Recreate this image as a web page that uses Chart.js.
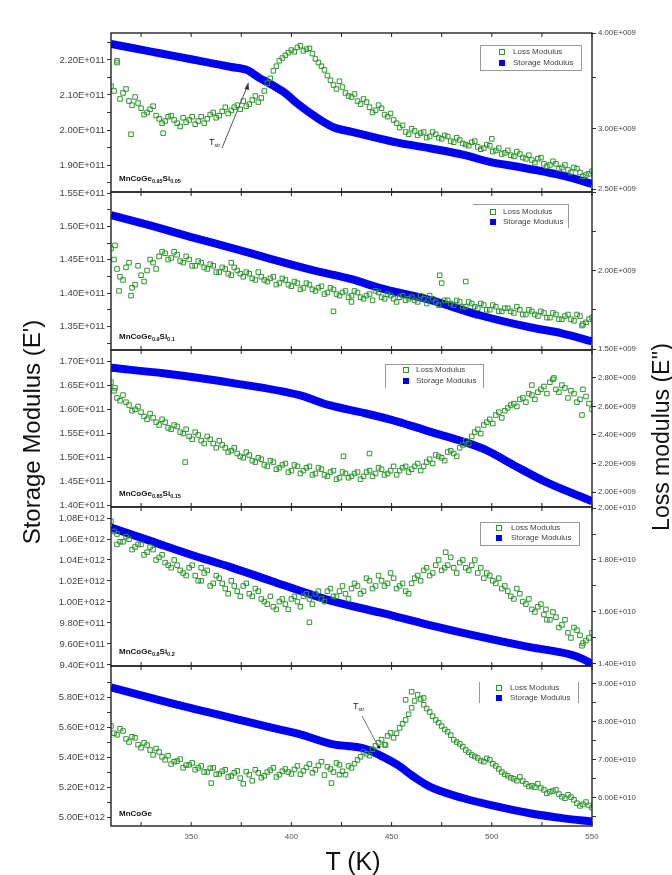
<!DOCTYPE html>
<html>
<head>
<meta charset="utf-8">
<script src="https://cdn.jsdelivr.net/npm/chart.js@4.4.0/dist/chart.umd.min.js"></script>
<style>
  body { margin: 0; background: #fff; }
  #wrap { position: relative; width: 672px; height: 875px; overflow: hidden; font-family: Arial, "Liberation Sans", sans-serif; }
  #wrap canvas { position: absolute; left: 0; }
  .ttl { position: absolute; color: #111; white-space: nowrap; transform: translate(-50%, -50%); }
  .rot { transform: translate(-50%, -50%) rotate(-90deg); }
  .legbox { position: absolute; border-color: #999; border-style: solid; border-width: 0; }
  .legrow { position: absolute; font-size: 8px; color: #444; white-space: nowrap; line-height: 8px; }
  .sq { position: absolute; width: 6px; height: 6px; box-sizing: border-box; }
  .sample { position: absolute; font-weight: bold; font-size: 8px; color: #111; white-space: nowrap; line-height: 8px; }
  .sample sub { font-size: 5.5px; vertical-align: -2px; font-weight: bold; }
  .tstr { position: absolute; font-size: 9px; color: #222; line-height: 9px; }
  .tstr sub { font-size: 5px; vertical-align: -2px; }
</style>
</head>
<body>
<div id="wrap"></div>
<script>
// temperatures of the loss-modulus readings (K), two interleaved sweeps
const tGrid = [310,313,316,319,322,325,328,331,334,337,340,343,346,349,352,355,358,361,364,367,370,373,376,379,382,385,388,391,394,397,400,403,406,409,412,415,418,421,424,427,430,433,436,439,442,445,448,451,454,457,460,463,466,469,472,475,478,481,484,487,490,493,496,499,502,505,508,511,514,517,520,523,526,529,532,535,538,541,544,547,550];
const tGrid2 = [311.5,314.5,317.5,320.5,323.5,326.5,329.5,332.5,335.5,338.5,341.5,344.5,347.5,350.5,353.5,356.5,359.5,362.5,365.5,368.5,371.5,374.5,377.5,380.5,383.5,386.5,389.5,392.5,395.5,398.5,401.5,404.5,407.5,410.5,413.5,416.5,419.5,422.5,425.5,428.5,431.5,434.5,437.5,440.5,443.5,446.5,449.5,452.5,455.5,458.5,461.5,464.5,467.5,470.5,473.5,476.5,479.5,482.5,485.5,488.5,491.5,494.5,497.5,500.5,503.5,506.5,509.5,512.5,515.5,518.5,521.5,524.5,527.5,530.5,533.5,536.5,539.5,542.5,545.5,548.5];

// x axis ticks
const xTicks = [350, 400, 450, 500, 550];
const xMinor = [325, 375, 425, 475, 525];

// MnCoGe0.95Si0.05  (storage x1e11, loss x1e9)
const storT1 = [310,320,330,340,350,360,370,378,384,390,396,404,412,421,430,440,453,469,486,499,513,526,536,550];
const stor1 = [2.246,2.235,2.224,2.213,2.202,2.191,2.180,2.171,2.149,2.130,2.109,2.071,2.038,2.008,1.995,1.981,1.964,1.948,1.929,1.909,1.895,1.881,1.869,1.846];
const loss1 = [3.41,3.66,3.34,3.26,3.30,3.19,3.15,3.21,3.09,3.07,3.12,3.05,3.10,3.08,3.04,3.11,3.09,3.15,3.12,3.20,3.17,3.22,3.26,3.23,3.31,3.29,3.44,3.57,3.68,3.74,3.80,3.83,3.79,3.82,3.70,3.62,3.52,3.42,3.46,3.34,3.30,3.26,3.28,3.20,3.17,3.19,3.11,3.08,3.01,2.97,3.00,2.94,2.97,2.93,2.95,2.91,2.93,2.88,2.90,2.86,2.88,2.84,2.83,2.85,2.81,2.78,2.81,2.76,2.78,2.74,2.73,2.74,2.70,2.69,2.70,2.67,2.65,2.67,2.63,2.61,2.64];
const loss1b = [3.36,3.28,3.38,3.22,3.24,3.13,3.18,3.12,3.05,3.11,3.08,3.02,3.06,3.11,3.07,3.05,3.13,3.10,3.16,3.14,3.20,3.18,3.21,3.27,3.25,3.36,3.49,3.62,3.71,3.77,3.78,3.85,3.81,3.76,3.66,3.58,3.47,3.38,3.40,3.31,3.33,3.23,3.25,3.15,3.22,3.13,3.14,3.05,3.03,2.95,2.98,2.96,2.92,2.97,2.92,2.94,2.89,2.92,2.87,2.85,2.89,2.82,2.86,2.80,2.83,2.79,2.77,2.80,2.75,2.77,2.71,2.75,2.68,2.72,2.66,2.69,2.63,2.66,2.60,2.62];
const extraT1 = [313, 336, 500, 320];
const extraLoss1 = [3.68, 2.96, 2.91, 2.95];

// MnCoGe0.9Si0.1  (storage x1e11, loss x1e9)
const storT2 = [310,330,350,370,390,410,430,444,469,494,519,535,550];
const stor2 = [1.517,1.501,1.484,1.468,1.451,1.435,1.421,1.408,1.390,1.367,1.349,1.340,1.328];
const loss2 = [2.14,2.01,1.94,2.05,1.91,1.97,2.00,2.05,2.09,2.11,2.08,2.10,2.05,2.07,2.03,2.05,2.01,2.03,1.99,2.01,1.97,2.00,1.96,1.98,1.94,1.96,1.93,1.96,1.92,1.94,1.90,1.92,1.89,1.91,1.87,1.90,1.86,1.88,1.84,1.87,1.84,1.86,1.82,1.85,1.87,1.83,1.85,1.82,1.83,1.81,1.83,1.80,1.82,1.84,1.80,1.92,1.81,1.78,1.80,1.77,1.79,1.76,1.78,1.75,1.77,1.74,1.76,1.73,1.75,1.72,1.74,1.71,1.73,1.70,1.72,1.69,1.72,1.68,1.71,1.67,1.70];
const loss2b = [2.07,1.96,2.02,1.89,2.03,1.93,2.07,2.01,2.12,2.07,2.12,2.06,2.09,2.03,2.06,2.02,2.04,1.99,2.02,1.98,2.02,1.98,1.99,1.95,1.99,1.94,1.95,1.91,1.95,1.91,1.93,1.88,1.92,1.88,1.89,1.85,1.89,1.85,1.86,1.83,1.87,1.83,1.84,1.81,1.86,1.82,1.84,1.80,1.84,1.82,1.81,1.84,1.79,1.82,1.78,1.81,1.79,1.81,1.77,1.80,1.77,1.79,1.75,1.78,1.74,1.76,1.74,1.77,1.72,1.75,1.72,1.74,1.70,1.73,1.69,1.71,1.69,1.72,1.66,1.69];
const extraT2 = [312, 314, 320, 474, 487, 421, 430, 545, 370];
const extraLoss2 = [2.16, 1.87, 1.84, 1.97, 1.93, 1.74, 1.80, 1.65, 2.05];

// MnCoGe0.85Si0.15  (storage x1e11, loss x1e9)
const storT3 = [310,337,371,404,419,436,453,469,486,497,511,528,550];
const stor3 = [1.686,1.674,1.654,1.629,1.608,1.592,1.574,1.553,1.532,1.515,1.483,1.446,1.408];
const loss3 = [2.77,2.66,2.68,2.61,2.58,2.56,2.51,2.52,2.47,2.49,2.44,2.46,2.41,2.39,2.42,2.36,2.39,2.34,2.36,2.31,2.29,2.27,2.24,2.26,2.21,2.23,2.18,2.21,2.17,2.20,2.15,2.18,2.15,2.18,2.13,2.16,2.11,2.15,2.10,2.13,2.11,2.14,2.11,2.15,2.13,2.16,2.13,2.18,2.15,2.18,2.16,2.20,2.18,2.23,2.26,2.24,2.28,2.27,2.31,2.36,2.39,2.44,2.47,2.51,2.54,2.52,2.59,2.62,2.65,2.63,2.68,2.70,2.74,2.77,2.72,2.75,2.66,2.69,2.65,2.67,2.58];
const loss3b = [2.71,2.64,2.63,2.57,2.60,2.53,2.55,2.49,2.51,2.45,2.47,2.42,2.44,2.37,2.40,2.34,2.37,2.31,2.33,2.28,2.31,2.25,2.28,2.22,2.24,2.19,2.22,2.16,2.19,2.14,2.19,2.13,2.17,2.12,2.17,2.12,2.14,2.09,2.14,2.10,2.13,2.09,2.14,2.11,2.17,2.12,2.15,2.12,2.17,2.14,2.18,2.15,2.21,2.20,2.25,2.22,2.29,2.25,2.33,2.34,2.42,2.41,2.49,2.48,2.56,2.57,2.61,2.60,2.66,2.69,2.65,2.72,2.69,2.79,2.70,2.73,2.71,2.63,2.72,2.62];
const extraT3 = [347, 426, 439, 531, 545, 520, 312];
const extraLoss3 = [2.21, 2.25, 2.27, 2.80, 2.54, 2.75, 2.73];

// MnCoGe0.8Si0.2  (storage x1e12, loss x1e10)
const storT4 = [310,330,350,370,390,410,420,444,469,494,519,539,545,550];
const stor4 = [1.071,1.058,1.045,1.033,1.020,1.007,1.001,0.990,0.978,0.967,0.957,0.950,0.946,0.941];
const loss4 = [1.95,1.90,1.87,1.88,1.85,1.86,1.83,1.84,1.81,1.79,1.77,1.78,1.75,1.77,1.74,1.72,1.76,1.71,1.73,1.69,1.72,1.68,1.70,1.67,1.69,1.65,1.63,1.62,1.64,1.63,1.65,1.64,1.66,1.65,1.67,1.65,1.68,1.66,1.68,1.67,1.69,1.70,1.68,1.72,1.70,1.72,1.71,1.73,1.70,1.68,1.71,1.74,1.76,1.74,1.78,1.76,1.78,1.77,1.79,1.77,1.78,1.75,1.73,1.74,1.71,1.69,1.68,1.65,1.67,1.63,1.61,1.62,1.59,1.57,1.58,1.55,1.52,1.54,1.51,1.49,1.52];
const loss4b = [1.91,1.87,1.89,1.84,1.86,1.82,1.85,1.80,1.82,1.78,1.80,1.76,1.74,1.78,1.72,1.75,1.70,1.74,1.71,1.67,1.70,1.66,1.71,1.66,1.68,1.64,1.66,1.61,1.65,1.61,1.66,1.62,1.67,1.63,1.68,1.64,1.69,1.66,1.70,1.65,1.71,1.67,1.73,1.69,1.74,1.70,1.75,1.69,1.71,1.67,1.73,1.72,1.77,1.75,1.80,1.77,1.81,1.75,1.80,1.76,1.80,1.77,1.75,1.72,1.73,1.70,1.66,1.69,1.64,1.65,1.60,1.63,1.57,1.60,1.54,1.57,1.50,1.53,1.48,1.50];
const extraT4 = [409, 477, 313, 355, 527, 545];
const extraLoss4 = [1.56, 1.83, 1.86, 1.77, 1.61, 1.47];

// MnCoGe  (storage x1e12, loss x1e10)
const storT5 = [310,337,354,371,388,404,421,436,444,453,461,469,486,503,519,536,550];
const stor5 = [5.865,5.769,5.713,5.658,5.602,5.553,5.484,5.458,5.413,5.347,5.269,5.202,5.125,5.069,5.025,4.991,4.969];
const loss5 = [7.89,7.66,7.76,7.47,7.58,7.32,7.39,7.13,7.21,7.00,6.89,6.97,6.79,6.87,6.74,6.84,6.68,6.79,6.63,6.74,6.58,6.71,6.37,6.61,6.74,6.53,6.68,6.79,6.61,6.76,6.63,6.84,6.71,6.89,6.74,6.95,6.82,6.68,6.87,6.61,6.79,7.00,7.21,7.11,7.37,7.53,7.63,7.58,7.84,8.05,8.37,8.71,8.45,8.26,8.05,7.89,7.74,7.53,7.42,7.26,7.13,7.05,6.95,7.00,6.84,6.68,6.58,6.50,6.55,6.37,6.32,6.37,6.21,6.16,6.21,6.03,6.08,5.95,5.79,5.89,5.74];
const loss5b = [7.70,7.82,7.55,7.61,7.40,7.45,7.26,7.30,7.08,7.11,6.95,7.02,6.86,6.92,6.79,6.68,6.78,6.62,6.70,6.55,6.66,6.52,6.69,6.45,6.66,6.58,6.73,6.55,6.70,6.68,6.75,6.62,6.80,6.66,6.85,6.60,6.76,6.92,6.70,6.84,6.90,7.08,7.16,7.28,7.45,7.40,7.71,7.70,7.95,8.20,8.55,8.60,8.35,8.15,7.98,7.80,7.65,7.47,7.35,7.20,7.09,6.98,7.04,6.90,6.76,6.62,6.53,6.45,6.44,6.30,6.28,6.26,6.12,6.18,6.10,5.99,6.02,5.86,5.83,5.80];
const extraT5 = [460, 420, 457, 466, 360, 424, 447];
const extraLoss5 = [8.79, 6.39, 8.58, 8.63, 6.39, 6.61, 7.39];

// axis tick values (labelled + unlabelled minor)
const leftTicks1 = [1.9, 2.0, 2.1, 2.2],            leftMinor1 = [1.85, 1.95, 2.05, 2.15, 2.25];
const leftTicks2 = [1.35, 1.40, 1.45, 1.50, 1.55],  leftMinor2 = [1.325, 1.375, 1.425, 1.475, 1.525];
const leftTicks3 = [1.40, 1.45, 1.50, 1.55, 1.60, 1.65, 1.70], leftMinor3 = [];
const leftTicks4 = [0.94, 0.96, 0.98, 1.00, 1.02, 1.04, 1.06, 1.08], leftMinor4 = [];
const leftTicks5 = [5.0, 5.2, 5.4, 5.6, 5.8],       leftMinor5 = [5.1, 5.3, 5.5, 5.7, 5.9];
const rightTicks1 = [2.5, 3.0, 4.0],                rightMinor1 = [3.5];
const rightTicks2 = [1.5, 2.0],                     rightMinor2 = [1.75, 2.25, 2.5];
const rightTicks3 = [2.0, 2.2, 2.4, 2.6, 2.8],      rightMinor3 = [];
const rightTicks4 = [1.4, 1.6, 1.8, 2.0],           rightMinor4 = [1.5, 1.7, 1.9];
const rightTicks5 = [6, 7, 8, 9],                   rightMinor5 = [5.5, 6.5, 7.5, 8.5];

const panels = [
  { top: 33, bottom: 192, sT: storT1, s: stor1,
    lT: tGrid.concat(tGrid2, extraT1), l: loss1.concat(loss1b, extraLoss1),
    left: { min: 1.823, max: 2.277, unit: 1e11, major: leftTicks1, minor: leftMinor1 },
    right: { type: 'logarithmic', min: 2.48, max: 4.0, unit: 1e9, major: rightTicks1, minor: rightMinor1 } },
  { top: 192, bottom: 350, sT: storT2, s: stor2,
    lT: tGrid.concat(tGrid2, extraT2), l: loss2.concat(loss2b, extraLoss2),
    left: { min: 1.315, max: 1.5515, unit: 1e11, major: leftTicks2, minor: leftMinor2 },
    right: { type: 'linear', min: 1.494, max: 2.5, unit: 1e9, major: rightTicks2, minor: rightMinor2 } },
  { top: 350, bottom: 507, sT: storT3, s: stor3,
    lT: tGrid.concat(tGrid2, extraT3), l: loss3.concat(loss3b, extraLoss3),
    left: { min: 1.396, max: 1.723, unit: 1e11, major: leftTicks3, minor: leftMinor3 },
    right: { type: 'linear', min: 1.895, max: 2.996, unit: 1e9, major: rightTicks3, minor: rightMinor3 } },
  { top: 507, bottom: 666, sT: storT4, s: stor4,
    lT: tGrid.concat(tGrid2, extraT4), l: loss4.concat(loss4b, extraLoss4),
    left: { min: 0.939, max: 1.0905, unit: 1e12, major: leftTicks4, minor: leftMinor4 },
    right: { type: 'linear', min: 1.392, max: 2.004, unit: 1e10, major: rightTicks4, minor: rightMinor4 } },
  { top: 666, bottom: 826, sT: storT5, s: stor5,
    lT: tGrid.concat(tGrid2, extraT5), l: loss5.concat(loss5b, extraLoss5),
    left: { min: 4.94, max: 6.007, unit: 1e12, major: leftTicks5, minor: leftMinor5 },
    right: { type: 'linear', min: 5.26, max: 9.47, unit: 1e10, major: rightTicks5, minor: rightMinor5 } }
];

Chart.defaults.font.family = "Arial, 'Liberation Sans', sans-serif";

function fmt(v) {
  return v.toExponential(2).toUpperCase().replace(/E([+-])(\d+)$/, (m, s, d) => 'E' + s + d.padStart(3, '0'));
}

function yScale(ax, pos, width, fontSize) {
  return {
    type: ax.type || 'linear',
    position: pos,
    min: ax.min,
    max: ax.max,
    afterBuildTicks: s => { s.ticks = ax.major.concat(ax.minor).sort((a, b) => a - b).map(v => ({ value: v })); },
    afterFit: s => { s.width = width; },
    grid: { drawOnChartArea: false, tickLength: 4, color: '#333', lineWidth: 1 },
    border: { display: false },
    ticks: {
      autoSkip: false, padding: 2, color: '#444',
      font: { size: fontSize },
      callback: v => ax.major.some(m => Math.abs(m - v) < 1e-9) ? fmt(v * ax.unit) : ''
    }
  };
}

// frame + inward x tick marks
const framePlugin = {
  id: 'frame',
  afterDraw(chart) {
    const { ctx, chartArea: a } = chart;
    const x = chart.scales.x;
    ctx.save();
    ctx.strokeStyle = '#222';
    ctx.lineWidth = 1.4;
    ctx.strokeRect(a.left, a.top, a.right - a.left, a.bottom - a.top);
    ctx.lineWidth = 1;
    xTicks.concat(xMinor).forEach(t => {
      const px = x.getPixelForValue(t);
      ctx.beginPath();
      ctx.moveTo(px, a.top); ctx.lineTo(px, a.top + 4);
      ctx.moveTo(px, a.bottom); ctx.lineTo(px, a.bottom - 4);
      ctx.stroke();
    });
    ctx.restore();
  }
};

const wrap = document.getElementById('wrap');

panels.forEach((p, i) => {
  const last = i === panels.length - 1;
  const h = p.bottom - p.top;
  const below = last ? 40 : 10;
  const cv = document.createElement('canvas');
  cv.width = 672;
  cv.height = 10 + h + below;
  cv.style.top = (p.top - 10) + 'px';
  wrap.appendChild(cv);

  const n = Math.min(p.lT.length, p.l.length);
  new Chart(cv, {
    type: 'scatter',
    data: {
      datasets: [
        {
          label: 'Loss Modulus',
          yAxisID: 'y2',
          data: p.lT.slice(0, n).map((t, k) => ({ x: t, y: p.l[k] })),
          pointStyle: 'rect',
          pointRadius: 3.2,
          borderColor: '#2f962f',
          borderWidth: 1,
          backgroundColor: 'rgba(255,255,255,0)',
          showLine: false,
          clip: 0
        },
        {
          label: 'Storage Modulus',
          type: 'line',
          yAxisID: 'y',
          data: p.sT.map((t, k) => ({ x: t, y: p.s[k] })),
          borderColor: '#0000f2',
          borderWidth: 8,
          pointRadius: 0,
          cubicInterpolationMode: 'monotone',
          fill: false,
          clip: 0
        }
      ]
    },
    options: {
      responsive: false,
      animation: false,
      events: [],
      layout: { padding: { top: 10, bottom: last ? 14 : 10, left: 0, right: 0 } },
      plugins: { legend: { display: false }, tooltip: { enabled: false } },
      scales: {
        x: {
          type: 'linear', min: 310, max: 550,
          display: last,
          afterBuildTicks: s => { s.ticks = xTicks.map(v => ({ value: v })); },
          afterFit: s => { s.height = last ? 26 : 0; },
          grid: { display: false, drawTicks: false, tickLength: 0 },
          border: { display: false },
          ticks: { color: '#555', font: { size: 8 }, padding: 6, autoSkip: false, maxRotation: 0 }
        },
        y: yScale(p.left, 'left', 111, 9.5),
        y2: yScale(p.right, 'right', 80, 7.8)
      }
    },
    plugins: [framePlugin]
  });
});

// legends, sample names, annotations, axis titles
const legends = [
  { box: [480, 45, 100, 24], sides: '1px', r1: 52, r2: 63, sq: 499, tx: 513 },
  { box: [473, 204, 95, 23], sides: '1px 1px 0 0', r1: 212, r2: 222, sq: 490, tx: 503 },
  { box: [385, 364, 97, 23], sides: '1px 1px 0 1px', r1: 370, r2: 381, sq: 403, tx: 416 },
  { box: [480, 522, 98, 22], sides: '1px', r1: 528, r2: 538, sq: 496, tx: 511 },
  { box: [479, 682, 98, 21], sides: '0 1px 0 1px', r1: 688, r2: 698, sq: 496, tx: 510 }
];
let html = '';
legends.forEach(g => {
  html += `<div class="legbox" style="left:${g.box[0]}px;top:${g.box[1]}px;width:${g.box[2]}px;height:${g.box[3]}px;border-width:${g.sides}"></div>`;
  html += `<div class="sq" style="left:${g.sq}px;top:${g.r1 - 3}px;border:1px solid #2f962f;background:#fff"></div>`;
  html += `<div class="legrow" style="left:${g.tx}px;top:${g.r1 - 4}px">Loss Modulus</div>`;
  html += `<div class="sq" style="left:${g.sq}px;top:${g.r2 - 3}px;background:#0000f2"></div>`;
  html += `<div class="legrow" style="left:${g.tx}px;top:${g.r2 - 4}px">Storage Modulus</div>`;
});
const samples = [
  ['MnCoGe<sub>0.95</sub>Si<sub>0.05</sub>', 175],
  ['MnCoGe<sub>0.9</sub>Si<sub>0.1</sub>', 333],
  ['MnCoGe<sub>0.85</sub>Si<sub>0.15</sub>', 490],
  ['MnCoGe<sub>0.8</sub>Si<sub>0.2</sub>', 648],
  ['MnCoGe', 810]
];
samples.forEach(s => { html += `<div class="sample" style="left:119px;top:${s[1]}px">${s[0]}</div>`; });
html += `<div class="tstr" style="left:209px;top:138px">T<sub>str</sub></div>`;
html += `<div class="tstr" style="left:353px;top:702px">T<sub>str</sub></div>`;
html += `<svg width="672" height="875" style="position:absolute;left:0;top:0">
  <line x1="222" y1="148" x2="247" y2="87" stroke="#555" stroke-width="1"/>
  <polygon points="248.5,82 244.5,89 249,90" fill="#333"/>
  <line x1="362" y1="716" x2="378" y2="746" stroke="#777" stroke-width="1"/>
  <circle cx="379" cy="747" r="1.6" fill="#222"/>
</svg>`;
html += `<div class="ttl rot" style="left:32px;top:432px;font-size:24px">Storage Modulus (E')</div>`;
html += `<div class="ttl rot" style="left:661px;top:437px;font-size:23px">Loss modulus (E'')</div>`;
html += `<div class="ttl" style="left:353px;top:861px;font-size:25px">T (K)</div>`;
wrap.insertAdjacentHTML('beforeend', html);
</script>
</body>
</html>
